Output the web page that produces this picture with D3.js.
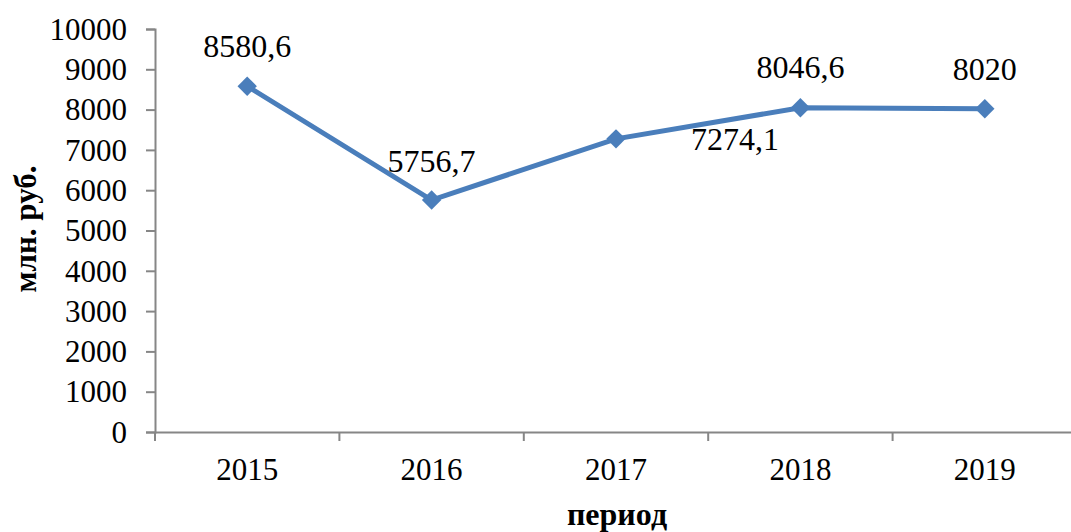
<!DOCTYPE html>
<meta charset="utf-8">
<style>
body { margin: 0; background: #fff; }
svg text { font-family: "Liberation Serif", "Times New Roman", serif; fill: #000; }
.axis path, .axis line { stroke: #868686; stroke-width: 2; }
</style>
<body>
<script src="https://d3js.org/d3.v7.min.js"></script>
<script>

var years = ["2015", "2016", "2017", "2018", "2019"];
var values = [8580.6, 5756.7, 7274.1, 8046.6, 8020];
var labels = ["8580,6", "5756,7", "7274,1", "8046,6", "8020"];
var yTicks = [0, 1000, 2000, 3000, 4000, 5000, 6000, 7000, 8000, 9000, 10000];

var width = 1071,
    height = 532;

var x = d3.scaleBand()
    .domain(years)
    .range([155, 1077]);

var y = d3.scaleLinear()
    .domain([0, 10000])
    .range([432, 29]);

var svg = d3.select("body").append("svg")
    .attr("width", width)
    .attr("height", height);

// y axis
var yAxis = svg.append("g")
    .attr("class", "axis")
    .attr("transform", "translate(155,0)")
    .call(d3.axisLeft(y).tickValues(yTicks).tickFormat(d3.format("d"))
      .tickSize(9).tickSizeOuter(9).tickPadding(19));
yAxis.attr("font-family", null).attr("font-size", null);
yAxis.selectAll("text")
    .style("font-size", "31px")
    .attr("dy", "0.33em");

// x axis, ticks between categories
var xAxis = svg.append("g")
    .attr("class", "axis")
    .attr("transform", "translate(0,432)")
    .call(d3.axisBottom(x).tickSize(0).tickPadding(26));
xAxis.attr("font-family", null).attr("font-size", null);
xAxis.selectAll("text")
    .style("font-size", "31px")
    .attr("dy", "0.71em");
xAxis.selectAll(".sep")
    .data(years)
  .enter().append("line")
    .attr("class", "sep")
    .attr("x1", function(d) { return x(d); })
    .attr("x2", function(d) { return x(d); })
    .attr("y1", 0)
    .attr("y2", 9);

var cx = function(d, i) { return x(years[i]) + x.bandwidth() / 2; };

var line = d3.line()
    .x(function(d, i) { return cx(d, i); })
    .y(function(d) { return y(d); });

svg.append("path")
    .datum(values)
    .attr("d", line)
    .attr("fill", "none")
    .attr("stroke", "#4a7ebb")
    .attr("stroke-width", 5);

svg.selectAll(".pt")
    .data(values)
  .enter().append("path")
    .attr("class", "pt")
    .attr("d", d3.symbol().type(d3.symbolDiamond2).size(240))
    .attr("transform", function(d, i) { return "translate(" + cx(d, i) + "," + y(d) + ")"; })
    .attr("fill", "#4a7ebb");

// data labels
var offs = [[0, -29], [0, -28], [119, 11], [0, -30], [0, -29]];
svg.selectAll(".lbl")
    .data(values)
  .enter().append("text")
    .attr("class", "lbl")
    .attr("text-anchor", "middle")
    .style("font-size", "32px")
    .attr("x", function(d, i) { return cx(d, i) + offs[i][0]; })
    .attr("y", function(d, i) { return y(d) + offs[i][1]; })
    .text(function(d, i) { return labels[i]; });

// titles
svg.append("text")
    .attr("transform", "translate(36,229) rotate(-90)")
    .attr("text-anchor", "middle")
    .style("font-size", "31px")
    .style("font-weight", "bold")
    .text("млн. руб.");

svg.append("text")
    .attr("x", 617)
    .attr("y", 525)
    .attr("text-anchor", "middle")
    .style("font-size", "32px")
    .style("font-weight", "bold")
    .text("период");

</script>
